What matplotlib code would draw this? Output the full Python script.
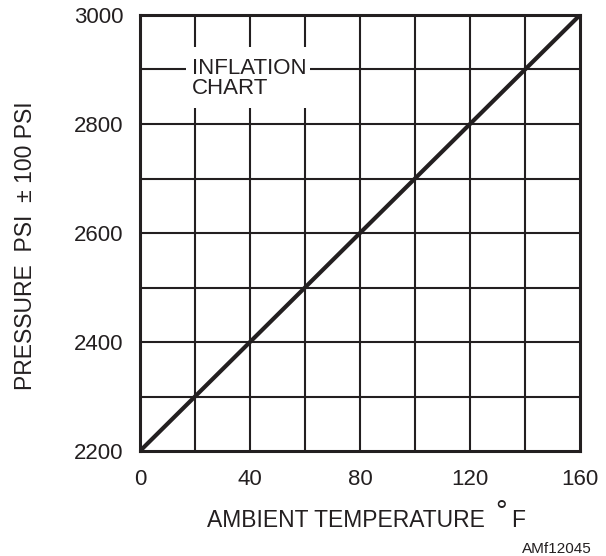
import matplotlib
matplotlib.use("Agg")
import matplotlib.pyplot as plt
from matplotlib.patches import Rectangle

plt.rcParams['font.family'] = ['Liberation Sans', 'DejaVu Sans']

# Inflation chart: pressure vs ambient temperature
temperature_f = [0, 160]
pressure_psi = [2200, 3000]

x_ticks = [0, 40, 80, 120, 160]
y_ticks = [2200, 2400, 2600, 2800, 3000]
x_grid = [20, 40, 60, 80, 100, 120, 140]
y_grid = [2300, 2400, 2500, 2600, 2700, 2800, 2900]

INK = '#231f20'
W, H = 606, 556

fig = plt.figure(figsize=(W / 100, H / 100), dpi=100)
ax = fig.add_axes([140 / W, 1 - 451 / H, 440 / W, 436 / H])

ax.set_xlim(0, 160)
ax.set_ylim(2200, 3000)

for gx in x_grid:
    ax.axvline(gx, color=INK, lw=1.5, zorder=1)
for gy in y_grid:
    ax.axhline(gy, color=INK, lw=1.5, zorder=1)

# blank patch behind the title text
ax.add_patch(Rectangle((16.8, 2830), 45.0, 112, facecolor='white',
                       edgecolor='none', zorder=2))
ax.text(19.0, 2922, 'INFLATION\nCHART', fontsize=16, color=INK,
        ha='left', va='top', linespacing=0.98, zorder=3)

ax.plot(temperature_f, pressure_psi, color=INK, lw=3.0, zorder=4,
        solid_capstyle='butt')

for s in ax.spines.values():
    s.set_linewidth(2.2)
    s.set_color(INK)
    s.set_zorder(5)

ax.set_xticks(x_ticks)
ax.set_yticks(y_ticks)
ax.tick_params(length=0, labelsize=16, colors=INK)
ax.tick_params(axis='x', pad=13)
ax.tick_params(axis='y', pad=12)

# x-axis title with a raised degree sign
fig.text(207 / W, 1 - 527 / H, 'AMBIENT TEMPERATURE', fontsize=16.5,
         color=INK, ha='left', va='baseline')
fig.text(495 / W, 1 - 520 / H, '\u00b0', fontsize=21,
         color=INK, ha='left', va='baseline')
fig.text(511 / W, 1 - 527 / H, 'F', fontsize=16.5,
         color=INK, ha='left', va='baseline')

fig.text(26 / W, 1 - 246 / H, 'PRESSURE  PSI  \u00b1 100 PSI', fontsize=16.5,
         color=INK, ha='center', va='center', rotation=90)
fig.text(592 / W, 1 - 553 / H, 'AMf12045', fontsize=11, color=INK,
         ha='right', va='baseline')

fig.savefig('out.png', dpi=100)
